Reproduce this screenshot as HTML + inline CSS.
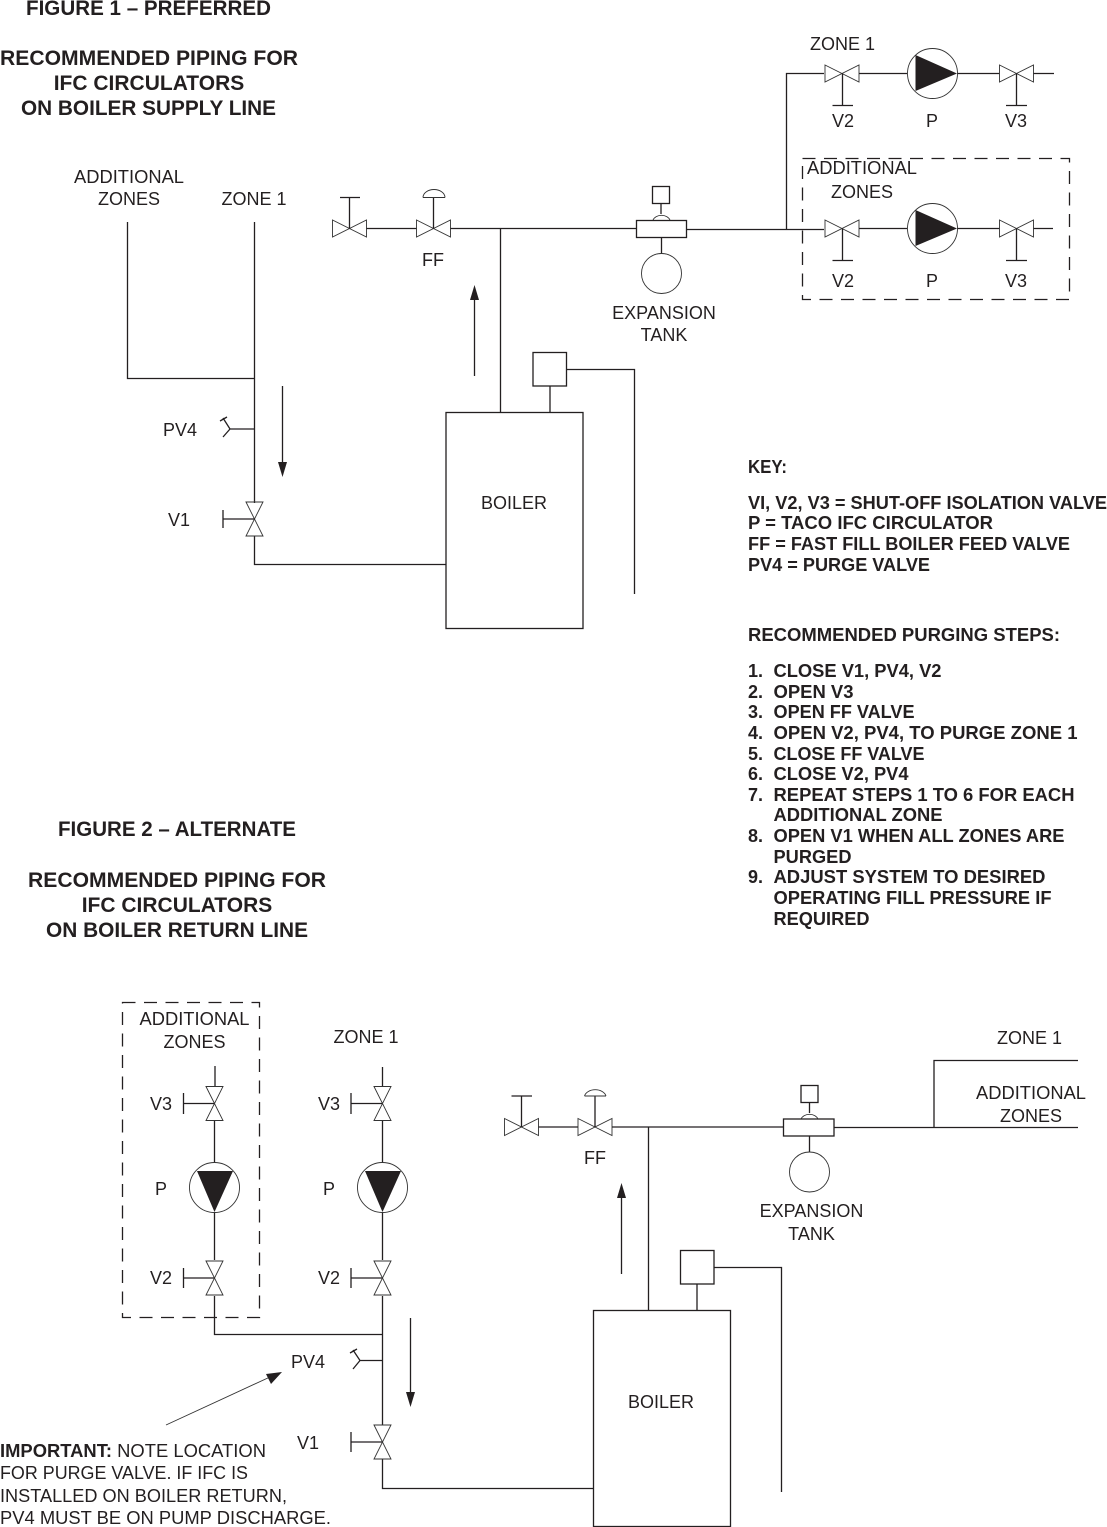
<!DOCTYPE html>
<html><head><meta charset="utf-8"><style>
html,body{margin:0;padding:0;background:#fff;width:1107px;height:1527px;overflow:hidden}
svg{display:block}
text{font-family:"Liberation Sans",sans-serif;fill:#231f20;font-size:18px}
.m{text-anchor:middle}
.t{font-weight:bold;font-size:21px}
.b{font-weight:bold;font-size:18px}
.l{fill:none;stroke:#231f20;stroke-width:1.3}
.w{fill:none;stroke:#333;stroke-width:.9}
.k{fill:#231f20;stroke:none}
.d{fill:none;stroke:#231f20;stroke-width:1.3;stroke-dasharray:13 8.5}
</style></head><body>
<svg width="1107" height="1527" viewBox="0 0 1107 1527" xmlns="http://www.w3.org/2000/svg">
<defs>
<g id="h"><path class="w" d="M-17,-8.5 L17,8.5 V-8.5 L-17,8.5 Z"/></g>
<g id="v"><path class="w" d="M-8.5,-17 L8.5,17 H-8.5 L8.5,-17 Z"/></g>
</defs>

<!-- FIGURE 1 titles -->
<text class="t m" x="148.5" y="15" textLength="245" lengthAdjust="spacingAndGlyphs">FIGURE 1 – PREFERRED</text>
<text class="t m" x="149" y="65" textLength="298" lengthAdjust="spacingAndGlyphs">RECOMMENDED PIPING FOR</text>
<text class="t m" x="149" y="90">IFC CIRCULATORS</text>
<text class="t m" x="148.500" y="115" textLength="255" lengthAdjust="spacingAndGlyphs">ON BOILER SUPPLY LINE</text>

<!-- FIG 1 left piping -->
<path class="l" d="M254.5,222 V503 M127.5,222 V378.5 H254.5 M254.5,429 H230 L223,418 M220,421 L227,417 M230,429 L223,437 M254.5,536 V564.5 H446"/>
<use href="#v" x="254.5" y="519"/>
<path class="l" d="M254.5,519 H223 M223,510 V528"/>
<path class="l" d="M282.5,386 V465"/>
<path class="k" d="M278,462 H287 L282.5,477 Z"/>
<text x="163" y="436">PV4</text>
<text x="168" y="526">V1</text>
<text class="m" x="129" y="183" textLength="110" lengthAdjust="spacingAndGlyphs">ADDITIONAL</text>
<text class="m" x="129" y="205">ZONES</text>
<text class="m" x="254" y="205">ZONE 1</text>

<!-- FIG 1 boiler -->
<rect class="l" x="446" y="412.5" width="137" height="216"/>
<rect class="l" x="533" y="352.5" width="33.5" height="33.5"/>
<path class="l" d="M550,386 V412 M566.5,369.5 H634.5 V594"/>
<text class="m" x="514" y="509">BOILER</text>

<!-- FIG 1 supply -->
<use href="#h" x="349.5" y="228.5"/>
<use href="#h" x="433.5" y="228.5"/>
<path class="l" d="M349.5,228.5 V197.5 M340,197.5 H360 M433.5,228.5 V197.5 M366.5,228.5 H416.5 M450.5,228.5 H636 M500.5,228.5 V412"/>
<path class="w" d="M423,197.5 H445 M423,197.5 A11,8 0 0 1 445,197.5"/>
<text class="m" x="433" y="266">FF</text>
<path class="l" d="M474.5,376 V295"/>
<path class="k" d="M470,300 H479 L474.5,285 Z"/>
<rect class="l" x="636.5" y="220.5" width="50" height="17"/>
<rect class="l" x="652.5" y="186.5" width="17" height="17"/>
<path class="l" d="M661,203.5 V214 M661.5,237.5 V253.5 M686.5,229.5 H824"/>
<path class="w" d="M653,220 A9,7 0 0 1 670,220"/>
<circle class="w" cx="661.5" cy="273.5" r="20"/>
<text class="m" x="664" y="319">EXPANSION</text>
<text class="m" x="664" y="341">TANK</text>

<!-- FIG 1 zones -->
<path class="l" d="M824,73.5 H786.5 V229.5"/>
<use href="#h" x="842" y="73.5"/>
<path class="l" d="M842.5,73.5 V105.5 M832.5,105.5 H853 M859,73.5 H907 M957,73.5 H999.5"/>
<circle class="w" cx="932.5" cy="73.5" r="25"/>
<path class="k" d="M915.5,55 V91 L957,73.5 Z"/>
<use href="#h" x="1016.5" y="73.5"/>
<path class="l" d="M1016.5,73.5 V105.5 M1006,105.5 H1027 M1033.5,73.5 H1054"/>
<text x="810" y="50">ZONE 1</text>
<text class="m" x="843" y="127">V2</text>
<text class="m" x="932" y="127">P</text>
<text class="m" x="1016" y="127">V3</text>

<use href="#h" x="842" y="228.5"/>
<path class="l" d="M842.5,228.5 V260.5 M832.5,260.5 H853 M859,228.5 H907 M957,228.5 H999.5"/>
<circle class="w" cx="932.5" cy="228.5" r="25"/>
<path class="k" d="M915.5,210 V246 L957,228.5 Z"/>
<use href="#h" x="1016.5" y="228.5"/>
<path class="l" d="M1016.5,228.5 V260.5 M1006,260.5 H1027 M1033.5,228.5 H1053"/>
<rect class="d" x="802.5" y="158.5" width="267" height="141"/>
<text class="m" x="862" y="174" textLength="110" lengthAdjust="spacingAndGlyphs">ADDITIONAL</text>
<text class="m" x="862" y="198">ZONES</text>
<text class="m" x="843" y="287">V2</text>
<text class="m" x="932" y="287">P</text>
<text class="m" x="1016" y="287">V3</text>

<!-- KEY -->
<text class="b" x="748" y="473" textLength="39" lengthAdjust="spacingAndGlyphs">KEY:</text>
<text class="b" x="748" y="509" textLength="359" lengthAdjust="spacingAndGlyphs">VI, V2, V3 = SHUT-OFF ISOLATION VALVE</text>
<text class="b" x="748" y="529" textLength="245" lengthAdjust="spacingAndGlyphs">P = TACO IFC CIRCULATOR</text>
<text class="b" x="748" y="550" textLength="322" lengthAdjust="spacingAndGlyphs">FF = FAST FILL BOILER FEED VALVE</text>
<text class="b" x="748" y="571" textLength="182" lengthAdjust="spacingAndGlyphs">PV4 = PURGE VALVE</text>
<text class="b" x="748" y="641" textLength="312" lengthAdjust="spacingAndGlyphs">RECOMMENDED PURGING STEPS:</text>
<text class="b" x="748" y="677">1.</text><text class="b" x="773.5" y="677" textLength="168" lengthAdjust="spacingAndGlyphs">CLOSE V1, PV4, V2</text>
<text class="b" x="748" y="698">2.</text><text class="b" x="773.5" y="698" textLength="80" lengthAdjust="spacingAndGlyphs">OPEN V3</text>
<text class="b" x="748" y="718">3.</text><text class="b" x="773.5" y="718" textLength="141" lengthAdjust="spacingAndGlyphs">OPEN FF VALVE</text>
<text class="b" x="748" y="739">4.</text><text class="b" x="773.5" y="739" textLength="304" lengthAdjust="spacingAndGlyphs">OPEN V2, PV4, TO PURGE ZONE 1</text>
<text class="b" x="748" y="760">5.</text><text class="b" x="773.5" y="760" textLength="151" lengthAdjust="spacingAndGlyphs">CLOSE FF VALVE</text>
<text class="b" x="748" y="780">6.</text><text class="b" x="773.5" y="780" textLength="135" lengthAdjust="spacingAndGlyphs">CLOSE V2, PV4</text>
<text class="b" x="748" y="801">7.</text><text class="b" x="773.5" y="801" textLength="301" lengthAdjust="spacingAndGlyphs">REPEAT STEPS 1 TO 6 FOR EACH</text>
<text class="b" x="773.5" y="821" textLength="169" lengthAdjust="spacingAndGlyphs">ADDITIONAL ZONE</text>
<text class="b" x="748" y="842">8.</text><text class="b" x="773.5" y="842" textLength="291" lengthAdjust="spacingAndGlyphs">OPEN V1 WHEN ALL ZONES ARE</text>
<text class="b" x="773.5" y="863" textLength="78" lengthAdjust="spacingAndGlyphs">PURGED</text>
<text class="b" x="748" y="883">9.</text><text class="b" x="773.5" y="883" textLength="272" lengthAdjust="spacingAndGlyphs">ADJUST SYSTEM TO DESIRED</text>
<text class="b" x="773.5" y="904" textLength="278" lengthAdjust="spacingAndGlyphs">OPERATING FILL PRESSURE IF</text>
<text class="b" x="773.5" y="925" textLength="96" lengthAdjust="spacingAndGlyphs">REQUIRED</text>

<!-- FIGURE 2 titles -->
<text class="t m" x="177" y="836" textLength="238" lengthAdjust="spacingAndGlyphs">FIGURE 2 – ALTERNATE</text>
<text class="t m" x="177" y="887" textLength="298" lengthAdjust="spacingAndGlyphs">RECOMMENDED PIPING FOR</text>
<text class="t m" x="177" y="912">IFC CIRCULATORS</text>
<text class="t m" x="177" y="937" textLength="262" lengthAdjust="spacingAndGlyphs">ON BOILER RETURN LINE</text>

<!-- FIG 2 left columns -->
<rect class="d" x="122.5" y="1002.5" width="137" height="315"/>
<text class="m" x="194.500" y="1025" textLength="110" lengthAdjust="spacingAndGlyphs">ADDITIONAL</text>
<text class="m" x="194.500" y="1048">ZONES</text>
<text class="m" x="366" y="1043">ZONE 1</text>

<path class="l" d="M215,1066 V1087 M214.500,1120 V1163 M214.500,1212 V1260 M214.500,1103.500 H183.500 M183.500,1093 V1114 M214.500,1278 H183.500 M183.500,1268 V1288 M214.500,1296 V1334.500 H382.500"/>
<use href="#v" x="214.500" y="1103.500"/>
<use href="#v" x="214.500" y="1278"/>
<circle class="w" cx="214.500" cy="1187.500" r="25"/>
<path class="k" d="M197,1171 H233 L214.500,1212 Z"/>
<text x="150" y="1110">V3</text>
<text x="155" y="1195">P</text>
<text x="150" y="1284">V2</text>

<path class="l" d="M382.500,1067 V1087 M382.500,1120 V1163 M382.500,1212 V1260 M382.500,1103.500 H351 M351,1093 V1114 M382.500,1278 H351 M351,1268 V1288 M382.500,1296 V1425 M382.500,1360.500 H360 L353,1350 M350,1353 L357,1349 M360,1360.500 L353,1369 M382.500,1442 H351 M351,1432 V1452 M382.500,1459 V1488.500 H593"/>
<use href="#v" x="382.500" y="1103.500"/>
<use href="#v" x="382.500" y="1278"/>
<use href="#v" x="382.500" y="1442"/>
<circle class="w" cx="382.500" cy="1187.500" r="25"/>
<path class="k" d="M365,1171 H401 L382.500,1212 Z"/>
<text x="318" y="1110">V3</text>
<text x="323" y="1195">P</text>
<text x="318" y="1284">V2</text>
<text x="291" y="1368">PV4</text>
<text x="297" y="1449">V1</text>

<path class="l" d="M410.500,1318 V1395"/>
<path class="k" d="M406,1392 H415 L410.500,1407 Z"/>
<path class="w" d="M166,1425 L270,1377"/>
<path class="k" d="M282,1372 L266,1374 L271,1384 Z"/>

<text x="0" y="1457" textLength="266" lengthAdjust="spacingAndGlyphs"><tspan font-weight="bold">IMPORTANT:</tspan> NOTE LOCATION</text>
<text x="0" y="1479" textLength="248" lengthAdjust="spacingAndGlyphs">FOR PURGE VALVE. IF IFC IS</text>
<text x="0" y="1502" textLength="287" lengthAdjust="spacingAndGlyphs">INSTALLED ON BOILER RETURN,</text>
<text x="0" y="1524" textLength="331" lengthAdjust="spacingAndGlyphs">PV4 MUST BE ON PUMP DISCHARGE.</text>

<!-- FIG 2 boiler and supply -->
<rect class="l" x="593.500" y="1310.500" width="137" height="216"/>
<rect class="l" x="680.500" y="1250.500" width="33.500" height="33.500"/>
<path class="l" d="M697,1284 V1310 M714,1267.500 H781.500 V1492"/>
<text class="m" x="661" y="1408">BOILER</text>

<use href="#h" x="521.500" y="1127"/>
<use href="#h" x="595" y="1127"/>
<path class="l" d="M521.500,1127 V1096 M511.500,1096 H532 M595,1127 V1096 M538.500,1127 H578 M612,1127 H783.500 M648.500,1127 V1310"/>
<path class="w" d="M584.500,1096 H606 M584.500,1096 A11,8 0 0 1 606,1096"/>
<text class="m" x="595" y="1164">FF</text>
<path class="l" d="M621.500,1274 V1193"/>
<path class="k" d="M617,1198 H626 L621.500,1183 Z"/>
<rect class="l" x="783.500" y="1119" width="50.500" height="17"/>
<rect class="l" x="801" y="1085.500" width="17" height="17"/>
<path class="l" d="M809.500,1102.500 V1113 M809.500,1136 V1152 M834,1127.500 H1078 M934,1127.500 V1060.500 H1078"/>
<path class="w" d="M801,1119 A9,7 0 0 1 818,1119"/>
<circle class="w" cx="809.500" cy="1172" r="20"/>
<text class="m" x="811.500" y="1217">EXPANSION</text>
<text class="m" x="811.500" y="1240">TANK</text>
<text class="m" x="1029.500" y="1044">ZONE 1</text>
<text class="m" x="1031" y="1099" textLength="110" lengthAdjust="spacingAndGlyphs">ADDITIONAL</text>
<text class="m" x="1031" y="1122">ZONES</text>
</svg>
</body></html>
